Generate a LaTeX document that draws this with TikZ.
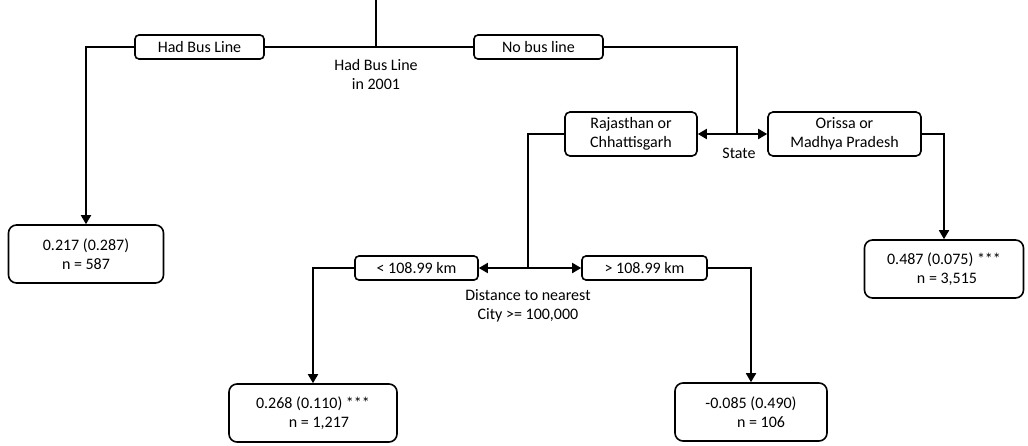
\documentclass[tikz,border=0pt]{standalone}
\usepackage{fontspec}
\setmainfont{Carlito}
\usetikzlibrary{arrows.meta}
\begin{document}
\begin{tikzpicture}[x=1pt,y=-1pt,
  line width=1.8pt,
  every node/.style={font=\fontsize{16}{19}\selectfont, inner sep=0pt},
  cond/.style={draw, rounded corners=4pt, line width=1.6pt, minimum height=24pt, align=center},
  split/.style={draw, rounded corners=5pt, line width=1.6pt, minimum height=44pt, align=center},
  leaf/.style={draw, rounded corners=8pt, line width=1.6pt, minimum height=58pt, align=center},
  lbl/.style={align=center},
  arr/.style={-{Triangle[length=9pt,width=10pt]}},
  darr/.style={{Triangle[length=9pt,width=10pt]}-{Triangle[length=9pt,width=10pt]}}
]
\useasboundingbox (0,0) rectangle (1028,445);

\node[cond, minimum width=129pt] (hbl) at (199.5,47) {Had Bus Line};
\node[cond, minimum width=129pt] (nbl) at (538.5,47) {No bus line};
\node[split, minimum width=132pt] (raj) at (631,134) {Rajasthan or\\Chhattisgarh};
\node[split, minimum width=153pt] (ori) at (844.5,134) {Orissa or\\Madhya Pradesh};
\node[leaf, minimum width=155pt] (leaf1) at (86,254) {0.217 (0.287)\\n = 587};
\node[cond, minimum width=123pt] (lt) at (416.5,268) {< 108.99 km};
\node[cond, minimum width=125pt] (gt) at (644.5,268) {> 108.99 km};
\node[leaf, minimum width=168pt] (leaf2) at (313,413) {0.268 (0.110) ***\\\hspace*{12pt}n = 1,217};
\node[leaf, minimum width=152pt] (leaf3) at (751,412) {-0.085 (0.490)\\\hspace*{20pt}n = 106};
\node[leaf, minimum width=159pt] (leaf4) at (944,269) {0.487 (0.075) ***\\\hspace*{6pt}n = 3,515};

\node[lbl] (l1) at (376,74) {Had Bus Line\\in 2001};
\node[lbl] (l2) at (739,153) {State};
\node[lbl] (l3) at (528,306) {Distance to nearest\\City >= 100,000};

\coordinate (top) at (376,0);
\coordinate (j1) at (376,47);
\coordinate (j2) at (737,134);
\coordinate (j3) at (528,268);

\draw (top) -- (j1);
\draw (hbl.east) -- (nbl.west);
\draw[arr] (hbl.west) -| (leaf1.north);
\draw (nbl.east) -| (j2);
\draw[arr] (j2) -- (raj.east);
\draw[arr] (j2) -- (ori.west);
\draw (raj.west) -| (j3);
\draw[arr] (ori.east) -| (leaf4.north);
\draw[arr] (j3) -- (lt.east);
\draw[arr] (j3) -- (gt.west);
\draw[arr] (lt.west) -| (leaf2.north);
\draw[arr] (gt.east) -| (leaf3.north);
\end{tikzpicture}
\end{document}
